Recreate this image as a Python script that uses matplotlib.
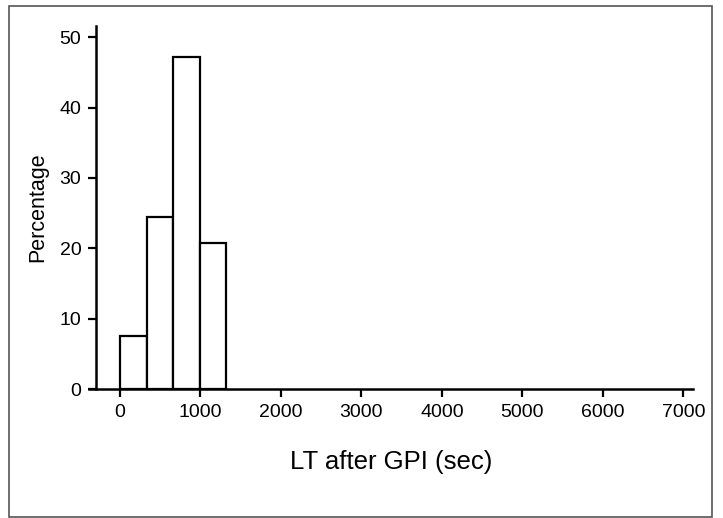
import matplotlib.pyplot as plt
from matplotlib.patches import Rectangle

plt.rcParams['font.family'] = ['Liberation Sans', 'DejaVu Sans']

# histogram of LT after GPI, bins of ~330 s
bin_edges = [0, 330, 660, 990, 1320]
percentages = [7.5, 24.5, 47.2, 20.8]
x_ticks = [0, 1000, 2000, 3000, 4000, 5000, 6000, 7000]
y_ticks = [0, 10, 20, 30, 40, 50]

W, H = 723, 518
fig = plt.figure(figsize=(W / 100, H / 100), dpi=100)

# grey frame round the whole picture
fig.patches.append(Rectangle((9 / W, 1 / H), 703 / W, 511 / H, transform=fig.transFigure,
                             fill=False, edgecolor='#555555', lw=1.2))

ax = fig.add_axes([89 / W, 129 / H, (693 - 89) / W, (389 - 26) / H])

lefts = bin_edges[:-1]
widths = [b - a for a, b in zip(bin_edges[:-1], bin_edges[1:])]
ax.bar(lefts, percentages, width=widths, align='edge', facecolor='white',
       edgecolor='black', linewidth=1.6)

ax.set_xlim(-385, 7120)
ax.set_ylim(0, 51.6)
ax.spines['top'].set_visible(False)
ax.spines['right'].set_visible(False)
ax.spines['left'].set_position(('data', -300))
for s in ('left', 'bottom'):
    ax.spines[s].set_linewidth(1.8)

ax.set_xticks(x_ticks)
ax.set_yticks(y_ticks)
ax.tick_params(direction='out', length=5.5, width=1.6, labelsize=14, pad=5)

ax.set_xlabel('LT after GPI (sec)', fontsize=18.5, labelpad=21)
ax.set_ylabel('Percentage', fontsize=15.5, labelpad=8)

fig.savefig('out.png', dpi=100)
